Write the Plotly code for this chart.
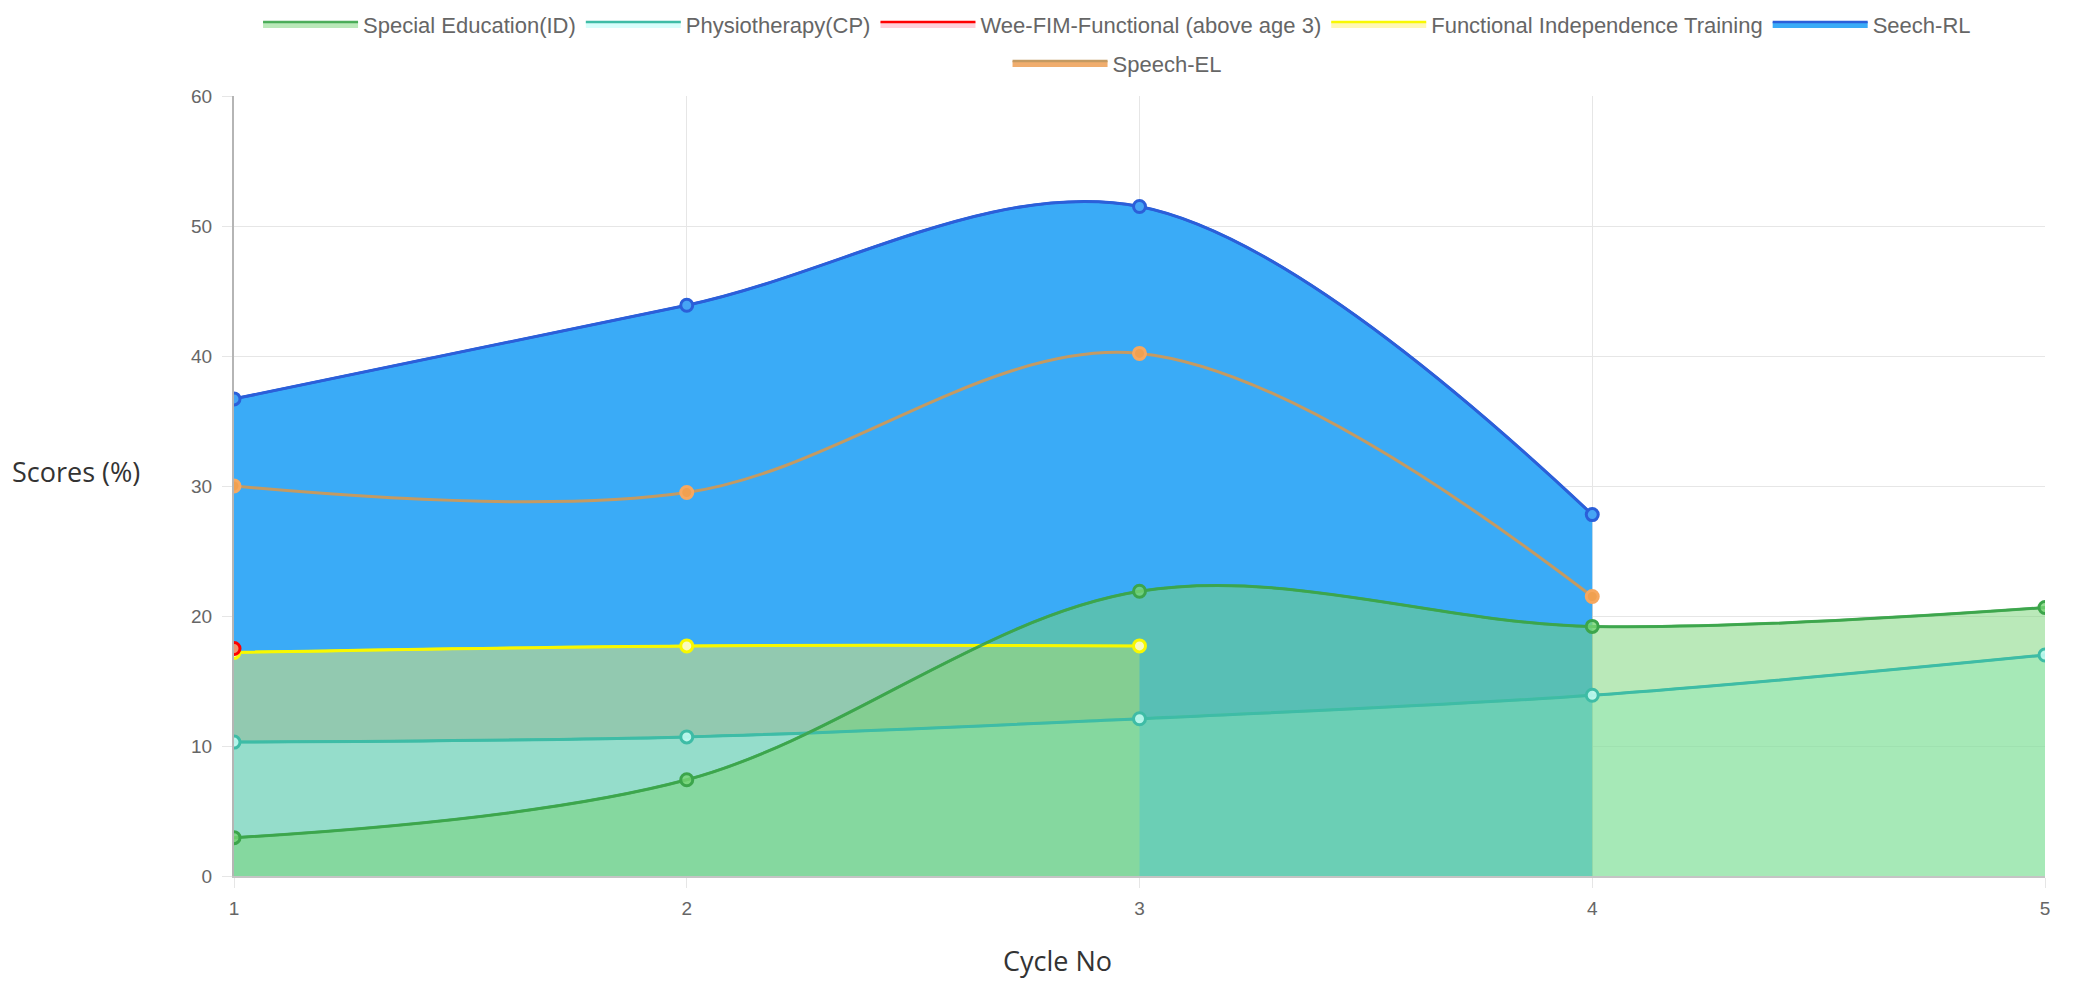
import plotly.graph_objects as go

# ---------------- data ----------------
cycles = [1, 2, 3, 4, 5]
x_tick_labels = ["1", "2", "3", "4", "5"]

special_education = [2.95, 7.4, 21.9, 19.2, 20.65]      # cycles 1-5
physiotherapy = [10.3, 10.7, 12.1, 13.9, 17.0]          # cycles 1-5
wee_fim_functional = [17.5]                             # cycle 1
functional_independence = [17.2, 17.7, 17.7]            # cycles 1-3
seech_rl = [36.7, 43.9, 51.5, 27.8]                     # cycles 1-4
speech_el = [30.0, 29.5, 40.2, 21.5]                    # cycles 1-4

series_names = [
    "Special Education(ID)",
    "Physiotherapy(CP)",
    "Wee-FIM-Functional (above age 3)",
    "Functional Independence Training",
    "Seech-RL",
    "Speech-EL",
]
series_values = [
    special_education,
    physiotherapy,
    wee_fim_functional,
    functional_independence,
    seech_rl,
    speech_el,
]
y_ticks = [0, 10, 20, 30, 40, 50, 60]

# ---------------- styles ----------------
line_colors = [
    "rgba(60,165,75,0.9)",
    "rgb(62,188,166)",
    "rgb(255,0,0)",
    "rgb(248,248,0)",
    "rgb(43,95,217)",
    "rgb(196,154,98)",
]
fill_colors = [
    "rgba(118,212,116,0.5)",
    "rgba(154,253,246,0.4)",
    "rgba(255,99,132,0.3)",
    "rgba(255,238,89,0.45)",
    "rgb(58,171,247)",
    "rgb(240,173,110)",
]
marker_fills = [
    "rgba(118,212,116,0.8)",
    "rgba(190,250,240,0.9)",
    "rgba(240,150,110,1)",
    "rgba(250,250,190,1)",
    "rgb(70,165,245)",
    "rgb(240,160,80)",
]
marker_lines = [
    "rgb(60,165,75)",
    "rgb(62,188,166)",
    "rgb(255,0,0)",
    "rgb(248,248,0)",
    "rgb(43,95,217)",
    "rgb(246,168,96)",
]
legend_ids = ["legend", "legend", "legend", "legend", "legend", "legend2"]

fig = go.Figure()

# fills first (last series at the bottom), then lines on top
order = list(range(len(series_names)))[::-1]
for i in order:
    vals = series_values[i]
    xs = cycles[: len(vals)]
    fig.add_trace(go.Scatter(
        x=xs, y=vals, name=series_names[i],
        mode="lines",
        fill="tozeroy",
        fillcolor=fill_colors[i],
        line=dict(color=line_colors[i], width=2.5, shape="spline", smoothing=1.0),
        legend=legend_ids[i],
        legendrank=i + 1,
        hoverinfo="skip",
    ))

for i in order:
    vals = series_values[i]
    xs = cycles[: len(vals)]
    fig.add_trace(go.Scatter(
        x=xs, y=vals, name=series_names[i],
        mode="lines+markers",
        line=dict(color=line_colors[i], width=3, shape="spline", smoothing=1.0),
        marker=dict(size=12, color=marker_fills[i],
                    line=dict(color=marker_lines[i], width=3)),
        showlegend=False,
    ))

tick_font = dict(family="Liberation Sans, Arial, sans-serif", size=19, color="#666666")
legend_font = dict(family="Liberation Sans, Arial, sans-serif", size=22, color="#666666")
title_font = dict(family="Open Sans, sans-serif", size=27, color="#333333")
grid_c = "#e6e6e6"

fig.update_layout(
    width=2073, height=981,
    margin=dict(l=226, r=36, t=88, b=113, autoexpand=False),
    paper_bgcolor="white", plot_bgcolor="white",
    showlegend=True,
    xaxis=dict(
        range=[1, 5], tickmode="array", tickvals=cycles, ticktext=x_tick_labels,
        showgrid=True, gridcolor=grid_c, gridwidth=1, zeroline=False,
        ticks="outside", ticklen=10, tickcolor=grid_c,
        showline=True, linecolor="#c4c4c4", linewidth=2,
        tickfont=tick_font, ticklabelstandoff=4,
    ),
    yaxis=dict(
        range=[0, 60], tickmode="array", tickvals=y_ticks,
        showgrid=True, gridcolor=grid_c, gridwidth=1, zeroline=False,
        ticks="outside", ticklen=10, tickcolor=grid_c,
        showline=True, linecolor="#b5b5b5", linewidth=2,
        tickfont=tick_font, ticklabelstandoff=6,
    ),
    legend=dict(
        orientation="h", x=0.4876, xanchor="center", y=1.119, yanchor="top",
        font=legend_font, itemwidth=95, bgcolor="rgba(0,0,0,0)",
    ),
    legend2=dict(
        orientation="h", x=0.4876, xanchor="center", y=1.069, yanchor="top",
        font=legend_font, itemwidth=95, bgcolor="rgba(0,0,0,0)",
    ),
    annotations=[
        dict(text="Scores (%)", xref="paper", yref="paper", x=-0.1237, y=0.5186,
             xanchor="left", yanchor="middle", showarrow=False, font=title_font),
        dict(text="Cycle No", xref="paper", yref="paper", x=0.4545, y=-0.108,
             xanchor="center", yanchor="middle", showarrow=False, font=title_font),
    ],
)

fig.write_html("out.html")
